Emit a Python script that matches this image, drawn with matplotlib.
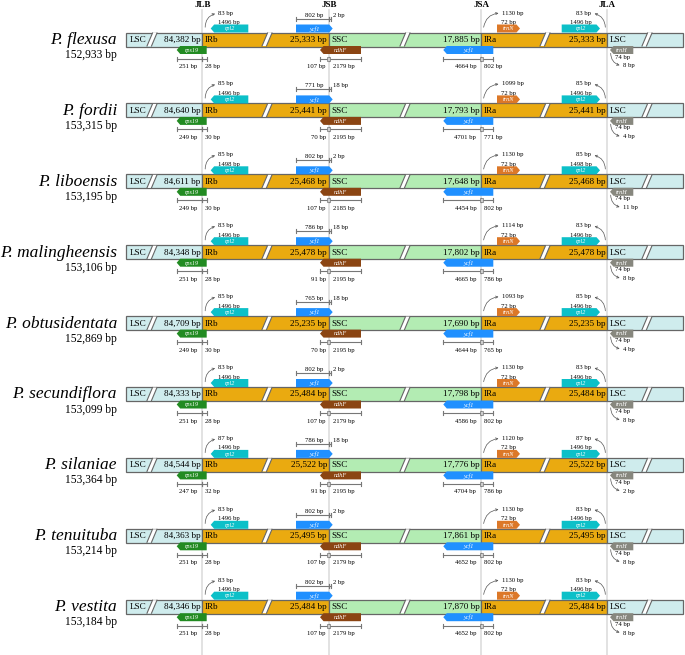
import matplotlib
matplotlib.use("Agg")
import matplotlib.pyplot as plt
from matplotlib.patches import Rectangle, Polygon, FancyArrowPatch

plt.rcParams['font.family'] = ['Liberation Serif', 'DejaVu Serif']

# ---- data ----
species = ["P. flexusa", "P. fordii", "P. liboensis", "P. malingheensis",
           "P. obtusidentata", "P. secundiflora", "P. silaniae",
           "P. tenuituba", "P. vestita"]
genome = [152933, 153315, 153195, 153106, 152869, 153099, 153364, 153214, 153184]
lsc = [84382, 84640, 84611, 84348, 84709, 84333, 84544, 84363, 84346]
irb = [25333, 25441, 25468, 25478, 25235, 25484, 25522, 25495, 25484]
ssc = [17885, 17793, 17648, 17802, 17690, 17798, 17776, 17861, 17870]
ira = irb

rps19_lsc = [251, 249, 249, 251, 249, 251, 247, 251, 251]
rps19_irb = [28, 30, 30, 28, 30, 28, 32, 28, 28]
rpl2b_gap = [83, 85, 85, 83, 85, 83, 87, 83, 83]
rpl2b_len = [1496, 1496, 1498, 1496, 1496, 1496, 1496, 1496, 1496]
ycf1b_irb = [802, 771, 802, 786, 765, 802, 786, 802, 802]
ycf1b_ssc = [2, 18, 2, 18, 18, 2, 18, 2, 2]
ndhf_irb = [107, 70, 107, 91, 70, 107, 91, 107, 107]
ndhf_ssc = [2179, 2195, 2185, 2195, 2195, 2179, 2195, 2179, 2179]
ycf1a_ssc = [4664, 4701, 4454, 4665, 4644, 4586, 4704, 4652, 4652]
ycf1a_ira = [802, 771, 802, 786, 765, 802, 786, 802, 802]
trnn_gap = [1130, 1099, 1130, 1114, 1093, 1130, 1120, 1130, 1130]
trnn_len = [72, 72, 72, 72, 72, 72, 72, 72, 72]
rpl2a_gap = [83, 85, 85, 83, 85, 83, 87, 83, 83]
rpl2a_len = [1496, 1496, 1498, 1496, 1496, 1496, 1496, 1496, 1496]
trnh_len = [74, 74, 74, 74, 74, 74, 74, 74, 74]
trnh_gap = [8, 4, 11, 8, 4, 8, 2, 8, 8]

junction_names = ["JLB", "JSB", "JSA", "JLA"]

# ---- layout (pixels) ----
W, H = 685, 655
X0, X1 = 126.5, 683
JLB, JSB, JSA, JLA = 202.3, 329.0, 481.3, 607.3
Y_FIRST, ROW_STEP, HALF = 39.5, 70.9, 7.0
C_LSC, C_IR, C_SSC = "#cfeced", "#eaaa10", "#b3ecb3"
EDGE = "#666666"
DIMC = "#777777"
SMALL = 4.8


def bp(v):
    # region lengths carry a thousands separator
    return f"{v:,} bp"


def sbp(v):
    # gene/distance labels do not
    return f"{v} bp"


def gene(ax, xa, xb, ya, yb, color, name, direction):
    tip = 3.5
    ym = (ya + yb) / 2
    if direction == "left":
        pts = [(xa, ym), (xa + tip, ya), (xb, ya), (xb, yb), (xa + tip, yb)]
    else:
        pts = [(xa, ya), (xb - tip, ya), (xb, ym), (xb - tip, yb), (xa, yb)]
    ax.add_patch(Polygon(pts, closed=True, fc=color, ec="none", zorder=4))
    ax.text((xa + xb) / 2, ym + 0.3, name, style="italic", color="white",
            fontsize=4.4, ha="center", va="center", zorder=5)


def dim(ax, xa, xb, y):
    ax.plot([xa, xb], [y, y], color=DIMC, lw=0.8, zorder=3)
    for x in (xa, xb):
        ax.plot([x, x], [y - 2, y + 2], color=DIMC, lw=0.8, zorder=3)


def jbox(ax, x, y):
    ax.add_patch(Rectangle((x - 1.5, y - 2), 3, 4, fc="#cccccc", ec=DIMC,
                           lw=0.5, zorder=4))


def slash(ax, x, top, bot):
    w, s = 4.5, 5.5
    ax.add_patch(Polygon([(x, bot), (x + w, bot), (x + w + s, top), (x + s, top)],
                         closed=True, fc="white", ec="none", zorder=3))
    ax.plot([x, x + s], [bot, top], color=EDGE, lw=0.8, zorder=3)
    ax.plot([x + w, x + w + s], [bot, top], color=EDGE, lw=0.8, zorder=3)


def curve(ax, a, b, rad):
    ax.add_patch(FancyArrowPatch(a, b, connectionstyle=f"arc3,rad={rad}",
                                 arrowstyle="->", mutation_scale=4, lw=0.5,
                                 color="#555555", zorder=3))


fig = plt.figure(figsize=(W / 100, H / 100), dpi=100)
ax = fig.add_axes([0, 0, 1, 1])
ax.set_xlim(0, W)
ax.set_ylim(H, 0)
ax.axis("off")

for x, name in zip([JLB, JSB, JSA, JLA], junction_names):
    ax.plot([x, x], [10, H], color="#dddddd", lw=1.2, zorder=0)
    ax.text(x, 4.8, name, fontsize=6.5, fontweight="bold", ha="center", va="center")

for i, sp in enumerate(species):
    yc = Y_FIRST + i * ROW_STEP
    top, bot = yc - HALF, yc + HALF

    # species name and size
    ax.text(117, yc + 4.5, sp, fontsize=12.5, style="italic", ha="right", va="baseline")
    ax.text(117, yc + 18.5, bp(genome[i]), fontsize=8.3, ha="right", va="baseline")

    # genome bar segments
    segs = [(X0, JLB, C_LSC), (JLB, JSB, C_IR), (JSB, JSA, C_SSC),
            (JSA, JLA, C_IR), (JLA, X1, C_LSC)]
    for xa, xb, c in segs:
        ax.add_patch(Rectangle((xa, top), xb - xa, 2 * HALF, fc=c, ec=EDGE,
                               lw=0.9, zorder=2))
    for sx in (147, 262, 400, 540, 642):
        slash(ax, sx, top + 0.5, bot - 0.5)

    lab = dict(fontsize=6.6, va="center", zorder=4)
    ax.text(X0 + 3, yc + 0.5, "LSC", ha="left", **lab)
    ax.text(JLB - 2, yc + 0.5, bp(lsc[i]), ha="right", **lab)
    ax.text(JLB + 2.5, yc + 0.5, "IRb", ha="left", **lab)
    ax.text(JSB - 2, yc + 0.5, bp(irb[i]), ha="right", **lab)
    ax.text(JSB + 2.5, yc + 0.5, "SSC", ha="left", **lab)
    ax.text(JSA - 2, yc + 0.5, bp(ssc[i]), ha="right", **lab)
    ax.text(JSA + 2.5, yc + 0.5, "IRa", ha="left", **lab)
    ax.text(JLA - 2, yc + 0.5, bp(ira[i]), ha="right", **lab)
    ax.text(JLA + 2.5, yc + 0.5, "LSC", ha="left", **lab)

    gtop_a, gtop_b = top - 8, top
    gbot_a, gbot_b = bot - 0.5, bot + 7.5
    dy = bot + 12
    ty = bot + 20

    # rps19 across JLB
    gene(ax, JLB - 25.6, JLB + 4.4, gbot_a, gbot_b, "#228b22", "rps19", "left")
    dim(ax, JLB - 25.6, JLB, dy)
    dim(ax, JLB, JLB + 4.4, dy)
    ax.text(JLB - 5, ty, sbp(rps19_lsc[i]), fontsize=SMALL, ha="right", va="center")
    ax.text(JLB + 3, ty, sbp(rps19_irb[i]), fontsize=SMALL, ha="left", va="center")

    # rpl2 in IRb
    gene(ax, JLB + 8.4, JLB + 46, gtop_a, gtop_b, "#0cc0c8", "rpl2", "left")
    ax.text(JLB + 27, top - 10, sbp(rpl2b_len[i]), fontsize=SMALL, ha="center", va="center")
    curve(ax, (JLB + 3, top - 2.5), (JLB + 15.5, top - 19.5), -0.45)
    ax.text(JLB + 16, top - 19.5, sbp(rpl2b_gap[i]), fontsize=SMALL, ha="left", va="center")

    # ycf1 across JSB
    gene(ax, JSB - 33, JSB + 3.7, gtop_a, gtop_b, "#2090ff", "ycf1", "right")
    dim(ax, JSB - 33, JSB, top - 14)
    dim(ax, JSB, JSB + 2.5, top - 14)
    ax.text(JSB - 15, top - 17.5, sbp(ycf1b_irb[i]), fontsize=SMALL, ha="center", va="center")
    ax.text(JSB + 4, top - 17.5, sbp(ycf1b_ssc[i]), fontsize=SMALL, ha="left", va="center")

    # ndhF across JSB
    gene(ax, JSB - 9, JSB + 32, gbot_a, gbot_b, "#8b4513", "ndhF", "left")
    dim(ax, JSB - 9, JSB, dy)
    dim(ax, JSB, JSB + 32, dy)
    jbox(ax, JSB, dy)
    ax.text(JSB - 3, ty, sbp(ndhf_irb[i]), fontsize=SMALL, ha="right", va="center")
    ax.text(JSB + 4, ty, sbp(ndhf_ssc[i]), fontsize=SMALL, ha="left", va="center")

    # ycf1 across JSA
    gene(ax, JSA - 38, JSA + 12, gbot_a, gbot_b, "#2090ff", "ycf1", "left")
    dim(ax, JSA - 38, JSA, dy)
    dim(ax, JSA, JSA + 12, dy)
    jbox(ax, JSA, dy)
    ax.text(JSA - 5, ty, sbp(ycf1a_ssc[i]), fontsize=SMALL, ha="right", va="center")
    ax.text(JSA + 3, ty, sbp(ycf1a_ira[i]), fontsize=SMALL, ha="left", va="center")

    # trnN in IRa
    gene(ax, JSA + 15.7, JSA + 38.7, gtop_a, gtop_b, "#dc7828", "trnN", "right")
    ax.text(JSA + 27, top - 10, sbp(trnn_len[i]), fontsize=SMALL, ha="center", va="center")
    curve(ax, (JSA + 2, top - 2.5), (JSA + 20, top - 19.5), -0.45)
    ax.text(JSA + 20.5, top - 19.5, sbp(trnn_gap[i]), fontsize=SMALL, ha="left", va="center")

    # rpl2 in IRa
    gene(ax, JLA - 45.6, JLA - 7.3, gtop_a, gtop_b, "#0cc0c8", "rpl2", "right")
    ax.text(JLA - 26, top - 10, sbp(rpl2a_len[i]), fontsize=SMALL, ha="center", va="center")
    curve(ax, (JLA - 2, top - 2.5), (JLA - 15.5, top - 19.5), 0.45)
    ax.text(JLA - 16, top - 19.5, sbp(rpl2a_gap[i]), fontsize=SMALL, ha="right", va="center")

    # trnH in LSC
    gene(ax, JLA + 2.7, JLA + 26, gbot_a, gbot_b, "#87877e", "trnH", "left")
    ax.text(JLA + 8, bot + 10.5, sbp(trnh_len[i]), fontsize=SMALL, ha="left", va="center")
    curve(ax, (JLA + 3.5, bot + 4), (JLA + 15, bot + 19.5), 0.45)
    ax.text(JLA + 15.5, bot + 19.5, sbp(trnh_gap[i]), fontsize=SMALL, ha="left", va="center")

fig.savefig("out.png", dpi=100)
